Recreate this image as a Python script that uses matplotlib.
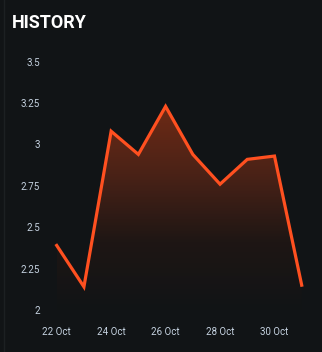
import matplotlib
matplotlib.use("Agg")
import matplotlib.pyplot as plt
import numpy as np
from matplotlib.colors import LinearSegmentedColormap
from matplotlib.patches import Polygon

# data
days = [22, 23, 24, 25, 26, 27, 28, 29, 30, 31]
values = [2.39, 2.14, 3.08, 2.94, 3.23, 2.94, 2.76, 2.91, 2.93, 2.15]
xtick_days = [22, 24, 26, 28, 30]
xtick_labels = ["22 Oct", "24 Oct", "26 Oct", "28 Oct", "30 Oct"]
ytick_vals = [2, 2.25, 2.5, 2.75, 3, 3.25, 3.5]
ytick_labels = ["2", "2.25", "2.5", "2.75", "3", "3.25", "3.5"]

bg = "#111416"
line_col = "#ff5020"
label_col = "#c5d2e0"

plt.rcParams['font.family'] = ['Roboto', 'DejaVu Sans']

fig = plt.figure(figsize=(3.22, 3.52), dpi=100, facecolor=bg)
W, H = 322, 352
ax = fig.add_axes([56.7 / W, (H - 310) / H, (301.7 - 56.7) / W, (310 - 61.7) / H])
ax.set_facecolor(bg)
ax.set_xlim(days[0], days[-1])
ax.set_ylim(2, 3.5)

# gradient fill under the line
cmap = LinearSegmentedColormap.from_list("grad", [bg, "#1e1614", "#4a2217", "#6e2a15"])
top = max(values)
grad = np.linspace(0, 1, 256).reshape(-1, 1)
img = ax.imshow(grad, extent=[days[0], days[-1], 2, top], origin="lower",
                aspect="auto", cmap=cmap, zorder=1)
verts = [(days[0], 2)] + list(zip(days, values)) + [(days[-1], 2)]
poly = Polygon(verts, closed=True, facecolor="none", edgecolor="none")
ax.add_patch(poly)
img.set_clip_path(poly)

ax.plot(days, values, color=line_col, lw=2.3, solid_joinstyle="miter",
        clip_on=False, zorder=3)

for s in ax.spines.values():
    s.set_visible(False)
ax.set_xticks(xtick_days)
ax.set_xticklabels(xtick_labels)
ax.set_yticks(ytick_vals)
ax.set_yticklabels(ytick_labels)
ax.tick_params(axis="both", length=0, colors=label_col, labelsize=7)
ax.tick_params(axis="y", pad=12)
ax.tick_params(axis="x", pad=12)

fig.text(12 / W, 1 - 23 / H, "HISTORY", color="white", fontsize=13,
         fontweight="bold", va="center", ha="left")

# thin panel edge on the left
fig.add_artist(plt.Line2D([3.5 / W, 3.5 / W], [0, 1], color="#1c2022", lw=1))

fig.savefig("out.png", dpi=100, facecolor=bg)
